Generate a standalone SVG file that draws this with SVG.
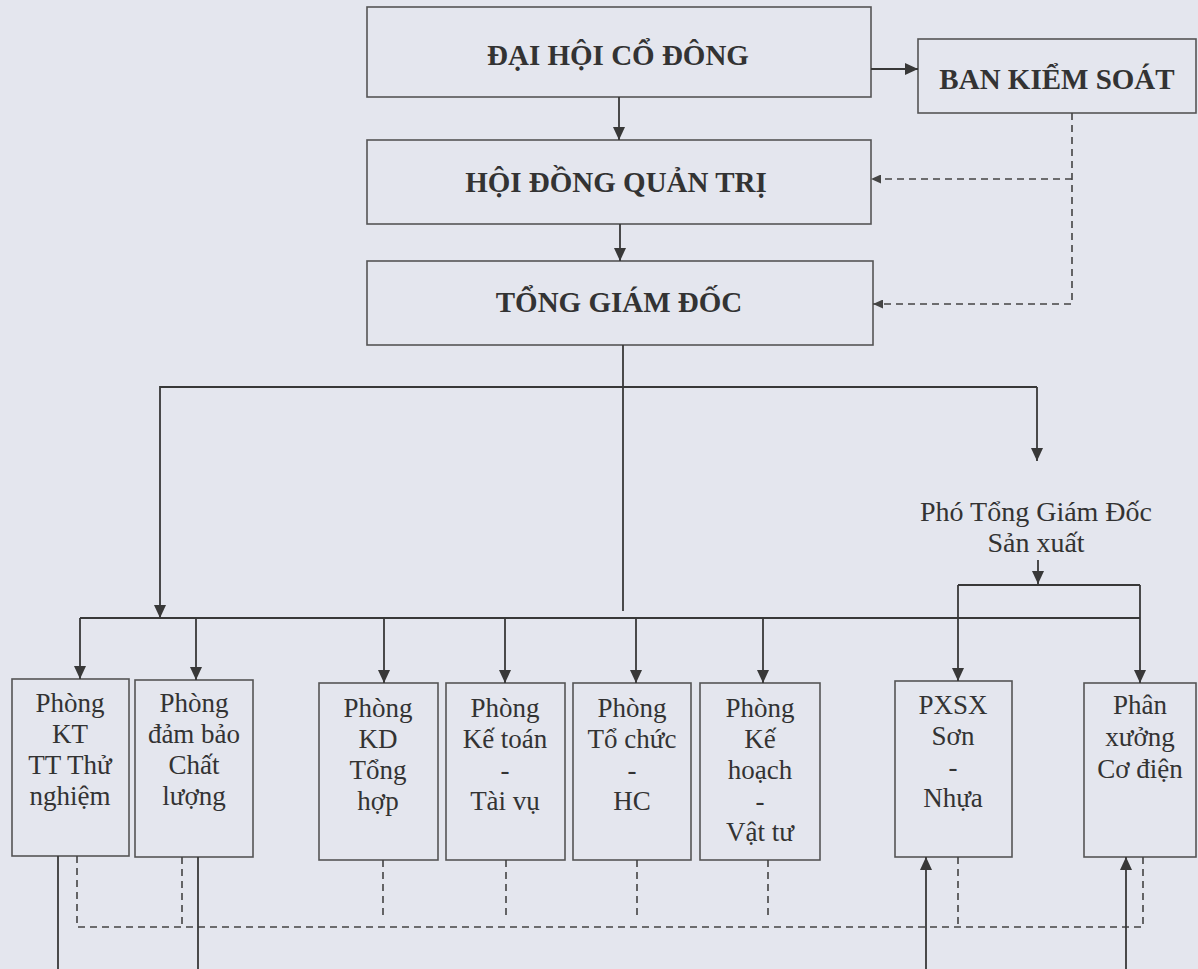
<svg xmlns="http://www.w3.org/2000/svg" width="1198" height="969" viewBox="0 0 1198 969">
<defs>
<marker id="arr" viewBox="0 0 13 12" refX="13" refY="6" markerWidth="13" markerHeight="12" orient="auto" markerUnits="userSpaceOnUse"><path d="M0,0 L13,6 L0,12 Z" fill="#383838"/></marker>
<marker id="darr" viewBox="0 0 10 9" refX="10" refY="4.5" markerWidth="10" markerHeight="9" orient="auto" markerUnits="userSpaceOnUse"><path d="M0,0 L10,4.5 L0,9 Z" fill="#444"/></marker>
</defs>
<style>
.box{fill:none;stroke:#555;stroke-width:1.6}
.t{font-family:"Liberation Serif","Times New Roman",serif;fill:#333;text-anchor:middle}
.b{font-weight:bold;font-size:29px}
.s{font-size:27px}
.p{font-size:28px}
.c{fill:none;stroke:#383838;stroke-width:1.8}
.a{marker-end:url(#arr)}
.d{fill:none;stroke:#444;stroke-width:1.6;stroke-dasharray:7 5}
.da{marker-end:url(#darr)}
</style>
<rect width="1198" height="969" fill="#e4e6ee"/>

<g id="dai-hoi-co-dong">
<rect class="box" x="367" y="7" width="504" height="90"/>
<text class="t b" x="618" y="65">ĐẠI HỘI CỔ ĐÔNG</text>
</g>
<g id="ban-kiem-soat">
<rect class="box" x="918" y="39" width="278" height="74"/>
<text class="t b" x="1057" y="89">BAN KIỂM SOÁT</text>
</g>
<g id="hoi-dong-quan-tri">
<rect class="box" x="367" y="140" width="504" height="84"/>
<text class="t b" x="616" y="192">HỘI ĐỒNG QUẢN TRỊ</text>
</g>
<g id="tong-giam-doc">
<rect class="box" x="367" y="261" width="506" height="84"/>
<text class="t b" x="619" y="312">TỔNG GIÁM ĐỐC</text>
</g>
<g id="pho-tong-giam-doc">
<text class="t p" x="1036" y="521">Phó Tổng Giám Đốc</text>
<text class="t p" x="1036" y="552">Sản xuất</text>
</g>

<g id="phong-kt">
<rect class="box" x="12" y="679" width="117" height="177"/>
<text class="t s" x="70" y="712">Phòng</text>
<text class="t s" x="70" y="743">KT</text>
<text class="t s" x="70" y="774">TT Thử</text>
<text class="t s" x="70" y="805">nghiệm</text>
</g>
<g id="phong-dam-bao">
<rect class="box" x="135" y="680" width="118" height="177"/>
<text class="t s" x="194" y="712">Phòng</text>
<text class="t s" x="194" y="743">đảm bảo</text>
<text class="t s" x="194" y="774">Chất</text>
<text class="t s" x="194" y="805">lượng</text>
</g>
<g id="phong-kd">
<rect class="box" x="319" y="683" width="119" height="177"/>
<text class="t s" x="378" y="717">Phòng</text>
<text class="t s" x="378" y="748">KD</text>
<text class="t s" x="378" y="779">Tổng</text>
<text class="t s" x="378" y="810">hợp</text>
</g>
<g id="phong-ke-toan">
<rect class="box" x="446" y="683" width="119" height="177"/>
<text class="t s" x="505" y="717">Phòng</text>
<text class="t s" x="505" y="748">Kế toán</text>
<text class="t s" x="505" y="779">-</text>
<text class="t s" x="505" y="810">Tài vụ</text>
</g>
<g id="phong-to-chuc">
<rect class="box" x="573" y="683" width="118" height="177"/>
<text class="t s" x="632" y="717">Phòng</text>
<text class="t s" x="632" y="748">Tổ chức</text>
<text class="t s" x="632" y="779">-</text>
<text class="t s" x="632" y="810">HC</text>
</g>
<g id="phong-ke-hoach">
<rect class="box" x="700" y="683" width="120" height="177"/>
<text class="t s" x="760" y="717">Phòng</text>
<text class="t s" x="760" y="748">Kế</text>
<text class="t s" x="760" y="779">hoạch</text>
<text class="t s" x="760" y="810">-</text>
<text class="t s" x="760" y="841">Vật tư</text>
</g>
<g id="pxsx-son-nhua">
<rect class="box" x="895" y="681" width="117" height="176"/>
<text class="t s" x="953" y="714">PXSX</text>
<text class="t s" x="953" y="745">Sơn</text>
<text class="t s" x="953" y="776">-</text>
<text class="t s" x="953" y="807">Nhựa</text>
</g>
<g id="phan-xuong-co-dien">
<rect class="box" x="1084" y="683" width="112" height="174"/>
<text class="t s" x="1140" y="714">Phân</text>
<text class="t s" x="1140" y="746">xưởng</text>
<text class="t s" x="1140" y="778">Cơ điện</text>
</g>

<g id="connectors">
<path class="c a" d="M871,69 H918"/>
<path class="c a" d="M619,97 V140"/>
<path class="c a" d="M620,224 V261"/>
<path class="d da" d="M1072,113 V304 H873"/>
<path class="d da" d="M1072,179 H871"/>
<path class="c" d="M623,345 V611"/>
<path class="c a" d="M1037,387 H160 V618"/>
<path class="c a" d="M1037,387 V461"/>
<path class="c a" d="M1038,560 V584"/>
<path class="c" d="M80,618 H1140"/>
<path class="c" d="M958,585 H1140"/>
<path class="c a" d="M958,585 V681"/>
<path class="c a" d="M1140,585 V683"/>
<path class="c a" d="M80,618 V679"/>
<path class="c a" d="M196,618 V680"/>
<path class="c a" d="M384,618 V683"/>
<path class="c a" d="M505,618 V683"/>
<path class="c a" d="M636,618 V683"/>
<path class="c a" d="M763,618 V683"/>
<path class="d" d="M77,856 V927 H1143 V857"/>
<path class="d" d="M182,857 V927"/>
<path class="d" d="M383,860 V918"/>
<path class="d" d="M506,860 V918"/>
<path class="d" d="M637,860 V920"/>
<path class="d" d="M768,860 V920"/>
<path class="d" d="M958,857 V927"/>
<path class="c" d="M58,856 V969"/>
<path class="c" d="M198,857 V969"/>
<path class="c a" d="M926,969 V857"/>
<path class="c a" d="M1126,969 V857"/>
</g>
</svg>
